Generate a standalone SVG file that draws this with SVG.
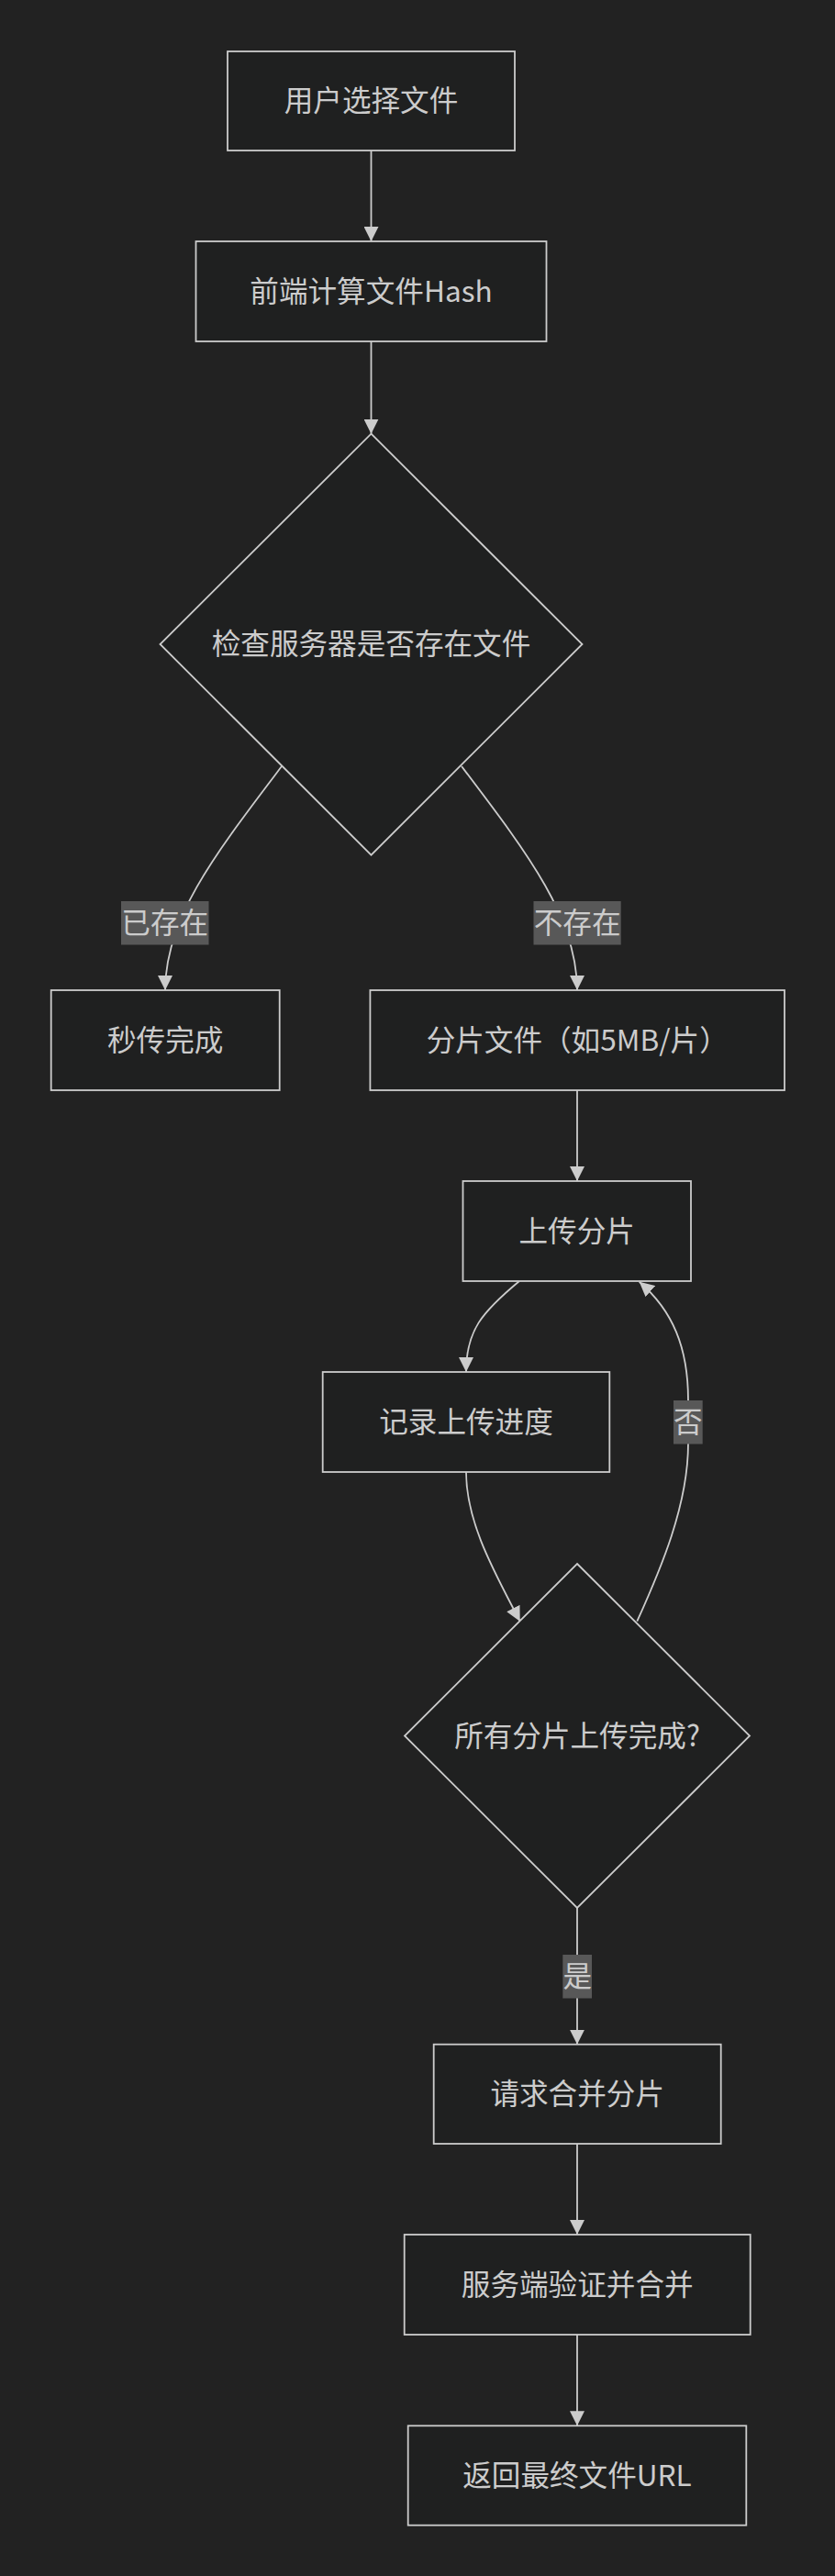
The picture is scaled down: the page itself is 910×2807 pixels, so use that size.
<svg xmlns="http://www.w3.org/2000/svg" width="910" height="2807" viewBox="0 0 910 2807">
<defs>
<style>
.node rect,.node polygon{fill:#1f2020;stroke:#cccccc;stroke-width:1.8}
.node text,.elabel text{font-family:"Noto Sans CJK SC","Noto Sans",sans-serif;font-size:31.6px;fill:#cccccc;text-anchor:middle}
.edge{fill:none;stroke:#cccccc;stroke-width:1.8}
.elabel rect{fill:#585858}
</style>
<marker id="arrow" viewBox="0 0 10 10" refX="10" refY="5" markerUnits="userSpaceOnUse" markerWidth="16" markerHeight="16" orient="auto">
<path d="M0,0 L10,5 L0,10 z" fill="#cccccc"/>
</marker>
</defs>
<rect x="0" y="0" width="910" height="2807" fill="#222222"/>
<g id="connectors">
<path class="edge" d="M404.5,164 L404.5,263" marker-end="url(#arrow)"/>
<path class="edge" d="M404.5,372 L404.5,472.7" marker-end="url(#arrow)"/>
<path class="edge" d="M307,835 C235,930 180,1000 180,1079" marker-end="url(#arrow)"/>
<path class="edge" d="M503,835 C575,930 629,1000 629,1079" marker-end="url(#arrow)"/>
<path class="edge" d="M629,1188 L629,1287" marker-end="url(#arrow)"/>
<path class="edge" d="M566,1396 C525,1430 508,1450 508,1495" marker-end="url(#arrow)"/>
<path class="edge" d="M508,1604 C508,1660 540,1715 566.7,1766.7" marker-end="url(#arrow)"/>
<path class="edge" d="M694.3,1766.7 C720,1710 750,1640 750,1573 L750,1526 C750,1468 733,1428 696.7,1396.7" marker-end="url(#arrow)"/>
<path class="edge" d="M629,2079 L629,2227.7" marker-end="url(#arrow)"/>
<path class="edge" d="M629,2336 L629,2435" marker-end="url(#arrow)"/>
<path class="edge" d="M629,2544 L629,2643.3" marker-end="url(#arrow)"/>
<g class="elabel" id="label-exists"><rect x="132" y="982" width="95.5" height="47.5"/><text x="179.7" y="1017">已存在</text></g>
<g class="elabel" id="label-notexists"><rect x="581.5" y="982" width="95.2" height="47.5"/><text x="629.1" y="1017">不存在</text></g>
<g class="elabel" id="label-no"><rect x="734" y="1526" width="31.7" height="47.5"/><text x="749.9" y="1561">否</text></g>
<g class="elabel" id="label-yes"><rect x="613.3" y="2130" width="31.7" height="47.5"/><text x="629.2" y="2165">是</text></g>
</g>
<g class="node" id="n-select"><rect x="248" y="56" width="313" height="108"/><text x="404.5" y="121">用户选择文件</text></g>
<g class="node" id="n-hash"><rect x="213.5" y="263" width="382" height="109"/><text x="404.5" y="328.5">前端计算文件Hash</text></g>
<g class="node" id="n-check"><polygon points="404.5,472.7 634.5,702 404.5,931.7 174.5,702"/><text x="404.5" y="713">检查服务器是否存在文件</text></g>
<g class="node" id="n-instant"><rect x="55.7" y="1079" width="249" height="109"/><text x="180.2" y="1144.5">秒传完成</text></g>
<g class="node" id="n-split"><rect x="403.4" y="1079" width="451.6" height="109"/><text x="629.2" y="1144.5">分片文件（如5MB/片）</text></g>
<g class="node" id="n-upload"><rect x="504.5" y="1287" width="248.5" height="109"/><text x="628.7" y="1352.5">上传分片</text></g>
<g class="node" id="n-progress"><rect x="351.7" y="1495" width="312.6" height="109"/><text x="508" y="1560.5">记录上传进度</text></g>
<g class="node" id="n-alldone"><polygon points="629,1704 817,1891.5 629,2079 441,1891.5"/><text x="629" y="1902.5">所有分片上传完成?</text></g>
<g class="node" id="n-merge"><rect x="472.7" y="2227.7" width="313" height="108.3"/><text x="629.2" y="2293">请求合并分片</text></g>
<g class="node" id="n-verify"><rect x="440.7" y="2435" width="377" height="109"/><text x="629.2" y="2500.5">服务端验证并合并</text></g>
<g class="node" id="n-return"><rect x="444.7" y="2643.3" width="368.6" height="108.4"/><text x="629" y="2708.5">返回最终文件URL</text></g>
</svg>
